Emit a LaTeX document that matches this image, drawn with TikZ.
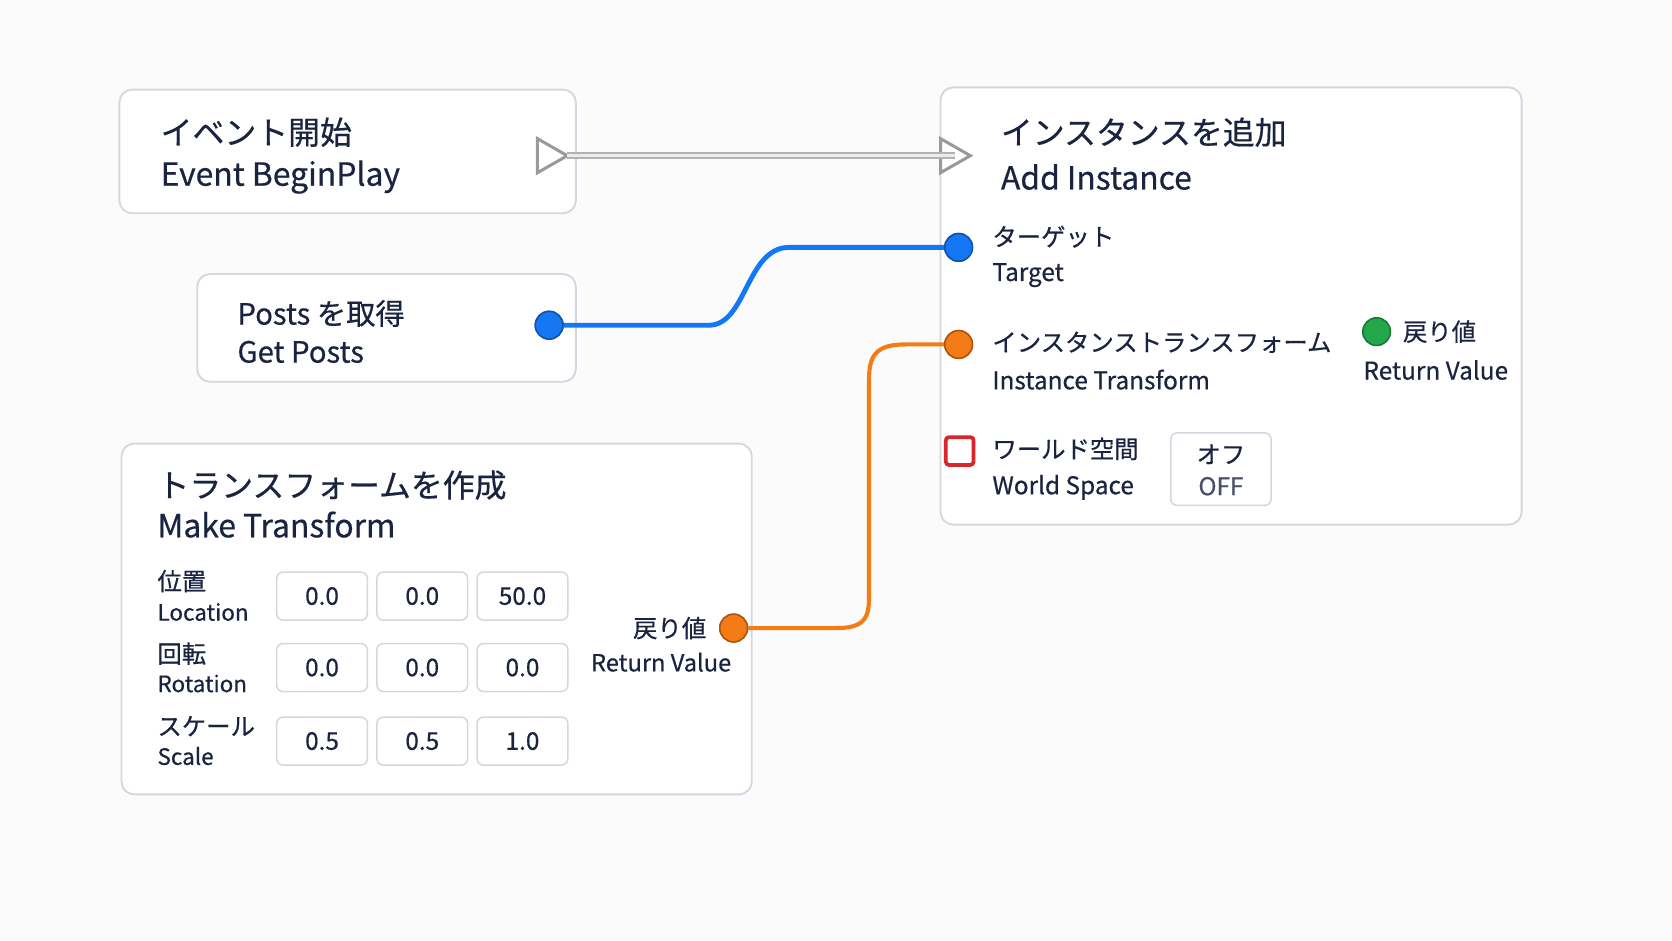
\documentclass[tikz,border=0pt]{standalone}
\usepackage{fontspec}
\setmainfont{Noto Sans CJK JP}[FakeBold=0.5]
\usetikzlibrary{positioning,calc}
\definecolor{ink}{HTML}{1A2340}
\definecolor{frame}{HTML}{D3D8E0}
\definecolor{pinblue}{HTML}{1677F5}
\definecolor{pinorange}{HTML}{F47B16}
\definecolor{pingreen}{HTML}{22A84A}
\definecolor{pinred}{HTML}{D9262B}
\tikzset{
  card/.style={draw=frame, line width=0.5pt, fill=white, rounded corners=1.2mm},
  title/.style={anchor=west, text=ink, font=\fontsize{8.5}{10}\selectfont, inner sep=0pt},
  label/.style={anchor=west, text=ink, font=\fontsize{6.5}{8}\selectfont, inner sep=0pt},
  small/.style={anchor=west, text=ink, font=\fontsize{6}{7}\selectfont, inner sep=0pt},
  field/.style={draw=frame, rounded corners=0.6mm, fill=white, minimum width=8.5mm, minimum height=4.5mm, text=ink, font=\fontsize{6.5}{8}\selectfont},
  pin/.style={circle, draw=#1!70!black, line width=0.4pt, fill=#1, minimum size=2.6mm, inner sep=0pt},
  exec/.style={draw=gray!80, line width=0.8pt, fill=white}
}
\begin{document}
\begin{tikzpicture}[x=0.01cm, y=-0.01cm]
\fill[white!97!gray] (0,0) rectangle (1568,882);
\useasboundingbox (0,0) rectangle (1568,882);

% cards
\draw[card] (112,84) rectangle (540,200);
\draw[card] (185,257) rectangle (540,358);
\draw[card] (114,416) rectangle (705,745);
\draw[card] (882,82) rectangle (1427,492);

% Event BeginPlay
\node[title] (evja) at (150,124) {イベント開始};
\node[title] (even) at (150,166) {Event BeginPlay};
\coordinate (evout) at (518,146);
\draw[exec] (504,130) -- (532,146) -- (504,162) -- cycle;

% Get Posts
\node[title, font=\fontsize{7.8}{9}\selectfont] (gpja) at (222,294) {Posts を取得};
\node[title, font=\fontsize{7.8}{9}\selectfont] (gpen) at (222,330) {Get Posts};
\node[pin=pinblue] (gpout) at (515,305) {};

% Make Transform
\node[title] (mtja) at (147,455) {トランスフォームを作成};
\node[title] (mten) at (147,492) {Make Transform};
\node[label] (locja) at (147,545) {位置};
\node[small] (locen) at (147,574) {Location};
\node[label] (rotja) at (147,613) {回転};
\node[small] (roten) at (147,641) {Rotation};
\node[label] (scja) at (147,681) {スケール};
\node[small] (scen) at (147,709) {Scale};
\foreach \v [count=\i] in {0.0,0.0,50.0}
  \node[field] (loc\i) at (208+94*\i,559) {\v};
\foreach \v [count=\i] in {0.0,0.0,0.0}
  \node[field] (rot\i) at (208+94*\i,626) {\v};
\foreach \v [count=\i] in {0.5,0.5,1.0}
  \node[field] (sc\i) at (208+94*\i,695) {\v};
\node[label, anchor=east] (mtretja) at (663,589) {戻り値};
\node[small, anchor=center, font=\fontsize{6.3}{8}\selectfont] (mtreten) at (620,621) {Return Value};
\node[pin=pinorange] (mtout) at (688,589) {};

% Add Instance
\node[title] (aija) at (938,124) {インスタンスを追加};
\node[title] (aien) at (938,166) {Add Instance};
\coordinate (aiin) at (896,146);
\draw[exec] (882,130) -- (910,146) -- (882,162) -- cycle;
\node[pin=pinblue] (tgin) at (899,232) {};
\node[label] (tgja) at (930,222) {ターゲット};
\node[label] (tgen) at (930,258) {Target};
\node[pin=pinorange] (trin) at (899,323) {};
\node[label] (trja) at (930,321) {インスタンストランスフォーム};
\node[label] (tren) at (930,356) {Instance Transform};
\node[pin=pingreen] (aiout) at (1291,311) {};
\node[label] (airetja) at (1315,311) {戻り値};
\node[label] (airetja) at (1278,347) {Return Value};
\node[draw=pinred, line width=1pt, fill=white, minimum size=2.6mm, inner sep=0pt, rounded corners=0.3mm] (wsbox) at (900,423) {};
\node[label] (wsja) at (930,421) {ワールド空間};
\node[label] (wsen) at (930,457) {World Space};
\node[draw=frame, rounded corners=0.6mm, minimum width=9.4mm, minimum height=6.8mm] (offbox) at (1145,440) {};
\node[label, anchor=center] (offja) at (1145,426) {オフ};
\node[small, anchor=center, font=\fontsize{6.5}{8}\selectfont, text=ink!80] (offen) at (1145,456) {OFF};

% wires
\draw[gray!60, line width=1.8pt] (532,146) -- (aiin);
\draw[white!85!gray, line width=0.7pt] (532,146) -- (aiin);
\draw[pinblue, line width=1.3pt] (gpout) -- (665,305) .. controls (700,305) and (700,232) .. (740,232) -- (tgin);
\draw[pinorange, line width=1.1pt] (mtout) -- (785,589) .. controls (815,589) and (815,575) .. (815,555) -- (815,355) .. controls (815,330) and (825,323) .. (850,323) -- (trin);
\node[pin=pinblue] at (gpout) {};
\node[pin=pinblue] at (tgin) {};
\node[pin=pinorange] at (mtout) {};
\node[pin=pinorange] at (trin) {};
\end{tikzpicture}
\end{document}
